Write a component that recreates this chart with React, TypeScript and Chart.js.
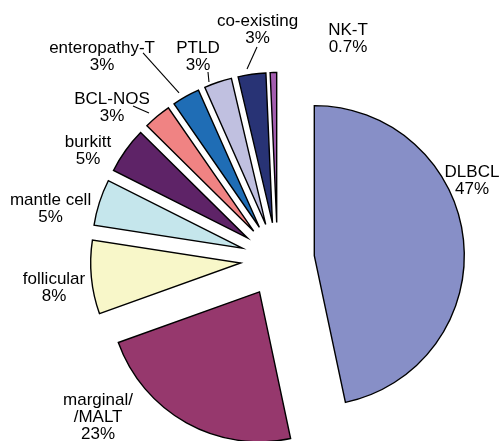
import React, { useEffect, useRef } from "react";
import { Chart, registerables } from "chart.js";

Chart.register(...registerables);

const categories = [
  "DLBCL",
  "marginal/\n/MALT",
  "follicular",
  "mantle cell",
  "burkitt",
  "BCL-NOS",
  "enteropathy-T",
  "PTLD",
  "co-existing",
  "NK-T",
];
const values = [47, 23, 8, 5, 5, 3, 3, 3, 3, 0.7];
const colors = [
  "#878FC7",
  "#96386D",
  "#F8F7C9",
  "#C5E6EC",
  "#5E2367",
  "#F08383",
  "#1F6DB5",
  "#C0C0E0",
  "#283375",
  "#A35DAF",
];

const EXPLODE = 37; // distance each slice is pulled out from the centre

// label placement (first-line baseline) relative to the outer middle of each slice
const labelNudge: [number, number][] = [
  [8.5, -63],
  [-88.4, -17.8],
  [-37.3, 6.7],
  [-48.9, 2.6],
  [-37.6, -3.5],
  [-45.2, -12.3],
  [-83.9, -43.5],
  [-19.9, -29.3],
  [5.6, -48.3],
  [74.6, -37.5],
];
// leader lines relative to outer middle of slice: [x1,y1,x2,y2] or null
const leaders: (number[] | null)[] = [
  null,
  null,
  null,
  null,
  null,
  [-8.2, -3.3, -24.2, -10.3],
  [-6.9, -3.5, -42.9, -43.5],
  [-8.9, -0.3, -9.9, -10.3],
  [-4.9, -5.3, 5.1, -27.3],
  null,
];

const explodePlugin = {
  id: "explodeSlices",
  beforeDatasetsDraw(chart: any) {
    const area = chart.chartArea;
    const cx = (area.left + area.right) / 2;
    const cy = (area.top + area.bottom) / 2;
    const meta = chart.getDatasetMeta(0);
    meta.data.forEach((arc: any) => {
      const mid = (arc.startAngle + arc.endAngle) / 2;
      arc.x = cx + Math.cos(mid) * EXPLODE;
      arc.y = cy + Math.sin(mid) * EXPLODE;
    });
  },
};

const labelPlugin = {
  id: "sliceLabels",
  afterDatasetsDraw(chart: any) {
    const ctx = chart.ctx;
    const meta = chart.getDatasetMeta(0);
    ctx.save();
    ctx.font = '17px "Liberation Sans", Arial, sans-serif';
    ctx.fillStyle = "#000";
    ctx.strokeStyle = "#000";
    ctx.lineWidth = 1.1;
    ctx.textAlign = "center";
    ctx.textBaseline = "alphabetic";
    meta.data.forEach((arc: any, i: number) => {
      const mid = (arc.startAngle + arc.endAngle) / 2;
      const r = arc.outerRadius;
      const ox = arc.x + Math.cos(mid) * r;
      const oy = arc.y + Math.sin(mid) * r;
      const lines = categories[i].split("\n").concat([`${values[i]}%`]);
      const [dx, dy] = labelNudge[i];
      lines.forEach((t, k) => {
        ctx.fillText(t, ox + dx, oy + dy + k * 17);
      });
      const l = leaders[i];
      if (l) {
        ctx.beginPath();
        ctx.moveTo(ox + l[0], oy + l[1]);
        ctx.lineTo(ox + l[2], oy + l[3]);
        ctx.stroke();
      }
    });
    ctx.restore();
  },
};

export default function App() {
  const ref = useRef<HTMLCanvasElement | null>(null);
  useEffect(() => {
    if (!ref.current) return;
    const chart = new Chart(ref.current, {
      type: "pie",
      data: {
        labels: categories,
        datasets: [
          {
            data: values,
            backgroundColor: colors,
            borderColor: "#000",
            borderWidth: 1.4,
            offset: 0,
            borderJoinStyle: "miter",
            clip: false,
          } as any,
        ],
      },
      options: {
        animation: false,
        responsive: false,
        radius: 150,
        layout: { padding: { left: 54, top: 78, right: 0, bottom: 0 } },
        plugins: { legend: { display: false }, tooltip: { enabled: false } },
      } as any,
      plugins: [explodePlugin, labelPlugin],
    });
    return () => chart.destroy();
  }, []);
  return (
    <div style={{ position: "fixed", left: 0, top: 0, width: 501, height: 441, background: "#fff" }}>
      <canvas ref={ref} width={501} height={441} style={{ width: 501, height: 441 }} />
    </div>
  );
}
